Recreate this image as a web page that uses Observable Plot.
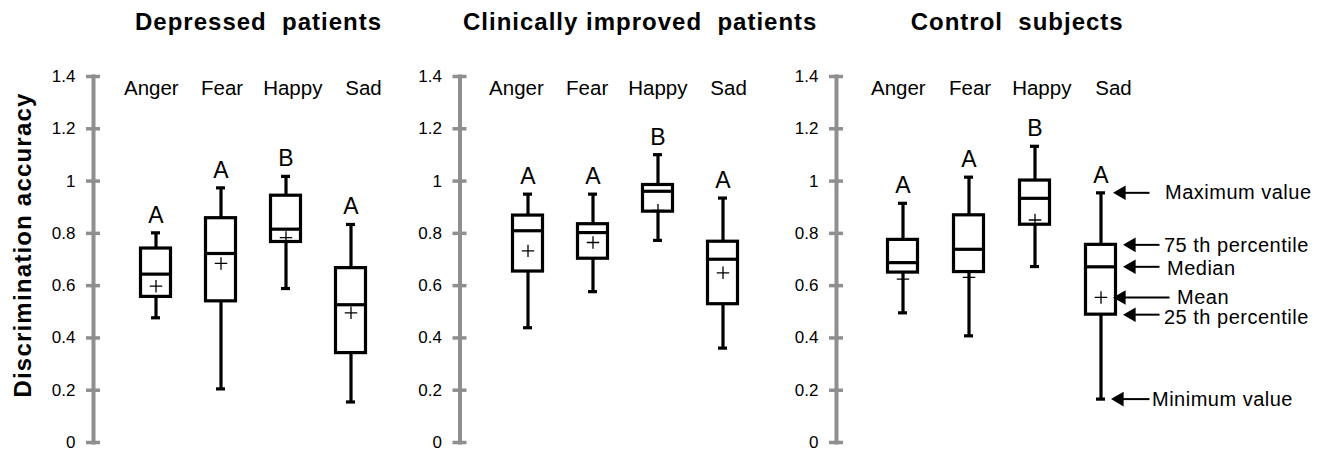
<!DOCTYPE html>
<html>
<head>
<meta charset="utf-8">
<script src="https://cdn.jsdelivr.net/npm/d3@7"></script>
<script src="https://cdn.jsdelivr.net/npm/@observablehq/plot@0.6"></script>
<style>
  body { margin: 0; background: #fff; }
  #wrap { position: relative; width: 1326px; height: 452px; overflow: hidden;
          font-family: "Liberation Sans", Arial, sans-serif; color: #000; }
  #wrap svg { position: absolute; top: 0; max-width: none; }
  .title { position: absolute; top: 10.4px; font-weight: bold; font-size: 24px; line-height: 24px;
           letter-spacing: 1px; white-space: pre; }
  .ytitle { position: absolute; left: 23.4px; top: 245px; font-weight: bold; font-size: 24px;
            line-height: 24px; letter-spacing: 1.2px; white-space: nowrap;
            transform: translate(-50%, -50%) rotate(-90deg); }
</style>
</head>
<body>
<div id="wrap"></div>
<script>
// ---------------- data ----------------
const emotions = ["Anger", "Fear", "Happy", "Sad"];
const groups = ["Depressed  patients", "Clinically improved  patients", "Control  subjects"];
const yTicks = [0, 0.2, 0.4, 0.6, 0.8, 1, 1.2, 1.4];
const yTitle = "Discrimination accuracy";

// Depressed patients
const depMin    = [0.477, 0.205, 0.589, 0.155];
const depQ1     = [0.557, 0.540, 0.767, 0.342];
const depMedian = [0.644, 0.723, 0.816, 0.527];
const depQ3     = [0.742, 0.858, 0.944, 0.667];
const depMax    = [0.802, 0.974, 1.018, 0.834];
const depMean   = [0.598, 0.685, 0.784, 0.496];
const depLetters = ["A", "A", "B", "A"];

// Clinically improved patients
const impMin    = [0.439, 0.577, 0.773, 0.361];
const impQ1     = [0.654, 0.703, 0.883, 0.529];
const impMedian = [0.810, 0.803, 0.961, 0.701];
const impQ3     = [0.868, 0.835, 0.985, 0.768];
const impMax    = [0.950, 0.950, 1.101, 0.935];
const impMean   = [0.733, 0.765, 0.888, 0.649];
const impLetters = ["A", "A", "B", "A"];

// Control subjects
const ctlMin    = [0.496, 0.408, 0.673, 0.166];
const ctlQ1     = [0.650, 0.652, 0.833, 0.489];
const ctlMedian = [0.688, 0.739, 0.934, 0.672];
const ctlQ3     = [0.775, 0.869, 1.002, 0.756];
const ctlMax    = [0.915, 1.015, 1.133, 0.955];
const ctlMean   = [0.625, 0.632, 0.851, 0.555];
const ctlLetters = ["A", "A", "B", "A"];

// legend annotations (point at the control "Sad" box)
const annLabels = ["Maximum value", "75 th percentile", "Median", "Mean", "25 th percentile", "Minimum value"];
const annStats  = ["max", "q3", "median", "mean", "q1", "min"];

// ---------------- layout / style ----------------
const GRAY = "#8f8f8f";
const FONT = "'Liberation Sans', Arial, sans-serif";
const layout = [
  {left: 0,   width: 400, ml: 93,   range: [121.5, 383.9], labelShift: 3.9,  titleLeft: 135},
  {left: 400, width: 370, ml: 59.5, range: [93.4, 357.0],  labelShift: -3,   titleLeft: 463},
  {left: 770, width: 556, ml: 66,   range: [99.4, 364.2],  labelShift: 3.9,  titleLeft: 910.7}
];
const annStyle = {
  max:    {tip: 12, end: 49, text: 64, dy: 0},
  q3:     {tip: 22, end: 59, text: 63, dy: 0.5},
  median: {tip: 22, end: 59, text: 66, dy: 1.3},
  mean:   {tip: 12, end: 69, text: 76, dy: 0},
  q1:     {tip: 22, end: 59, text: 63, dy: 2.8},
  min:    {tip: 10, end: 49, text: 51, dy: 0.5}
};

const series = [
  {min: depMin, q1: depQ1, median: depMedian, q3: depQ3, max: depMax, mean: depMean, letter: depLetters},
  {min: impMin, q1: impQ1, median: impMedian, q3: impQ3, max: impMax, mean: impMean, letter: impLetters},
  {min: ctlMin, q1: ctlQ1, median: ctlMedian, q3: ctlQ3, max: ctlMax, mean: ctlMean, letter: ctlLetters}
];

const wrap = document.getElementById("wrap");

series.forEach((s, gi) => {
  const cfg = layout[gi];
  const rows = emotions.map((e, i) => ({
    emotion: e, min: s.min[i], q1: s.q1[i], median: s.median[i], q3: s.q3[i],
    max: s.max[i], mean: s.mean[i], letter: s.letter[i]
  }));
  const SW = 3.2;
  const marks = [
    Plot.frame({anchor: "left", stroke: GRAY, strokeWidth: 4}),
    Plot.axisY({ticks: yTicks, tickFormat: d => String(d), tickSize: 14, dx: 7, tickPadding: 11,
                stroke: GRAY, strokeWidth: 3.5, fill: "#000", fontSize: 17, label: null}),
    Plot.ruleX(rows, {x: "emotion", y1: "min", y2: "max", stroke: "#000", strokeWidth: SW}),
    Plot.tickY(rows, {x: "emotion", y: "min", insetLeft: 12, insetRight: 12, stroke: "#000", strokeWidth: SW}),
    Plot.tickY(rows, {x: "emotion", y: "max", insetLeft: 12, insetRight: 12, stroke: "#000", strokeWidth: SW}),
    Plot.barY(rows, {x: "emotion", y1: "q1", y2: "q3", fill: "#fff", stroke: "#000", strokeWidth: SW,
                     insetLeft: 1.5, insetRight: 1.5}),
    Plot.tickY(rows, {x: "emotion", y: "median", insetLeft: 1.5, insetRight: 1.5, stroke: "#000", strokeWidth: SW}),
    Plot.dot(rows, {x: "emotion", y: "mean", symbol: "plus", r: 4.1, stroke: "#000", strokeWidth: 1.3}),
    Plot.text(rows, {x: "emotion", y: "max", text: "letter", dy: -10, lineAnchor: "bottom", fontSize: 23, fill: "#000"}),
    ...emotions.map((e, i) => Plot.text([e], {x: d => d, text: d => d, frameAnchor: "top", lineAnchor: "middle", dy: 12,
                     dx: cfg.labelShift + 5.7 * (i - 1.5), fontSize: 20.5, fill: "#000"}))
  ];

  if (gi === 2) {
    const sadIdx = emotions.indexOf("Sad");
    annStats.forEach((st, k) => {
      const row = {emotion: "Sad", value: s[st][sadIdx], label: annLabels[k]};
      const a = annStyle[st];
      marks.push(
        Plot.tickY([row], {x: "emotion", y: "value", insetLeft: a.tip + 24.5, insetRight: 16.5 - a.end,
                           stroke: "#000", strokeWidth: 2}),
        Plot.dot([row], {x: "emotion", y: "value", symbol: "triangle", rotate: -90, r: 5.4,
                         fill: "#000", stroke: "none", dx: a.tip + 8.4}),
        Plot.text([row], {x: "emotion", y: "value", text: "label", dx: a.text, dy: a.dy, textAnchor: "start",
                          lineAnchor: "middle", fontSize: 20, fill: "#000", className: "ann"})
      );
    });
  }

  const svg = Plot.plot({
    width: cfg.width,
    height: 452,
    marginLeft: cfg.ml,
    marginRight: 0,
    marginTop: 76,
    marginBottom: 10,
    style: {fontFamily: FONT, fontSize: "17px", color: "#000", background: "transparent", overflow: "visible"},
    x: {type: "band", domain: emotions, range: cfg.range, paddingInner: 0.5, paddingOuter: 0.25, axis: null},
    y: {domain: [0, 1.4], axis: null},
    marks
  });
  svg.style.left = cfg.left + "px";
  // annotation texts are slightly wider in the original
  d3.select(svg).selectAll(".ann text, g.ann text, text.ann").style("letter-spacing", "0.5px");
  wrap.appendChild(svg);

  const t = document.createElement("div");
  t.className = "title";
  t.textContent = groups[gi];
  t.style.left = cfg.titleLeft + "px";
  wrap.appendChild(t);
});

const yt = document.createElement("div");
yt.className = "ytitle";
yt.textContent = yTitle;
wrap.appendChild(yt);
</script>
</body>
</html>
